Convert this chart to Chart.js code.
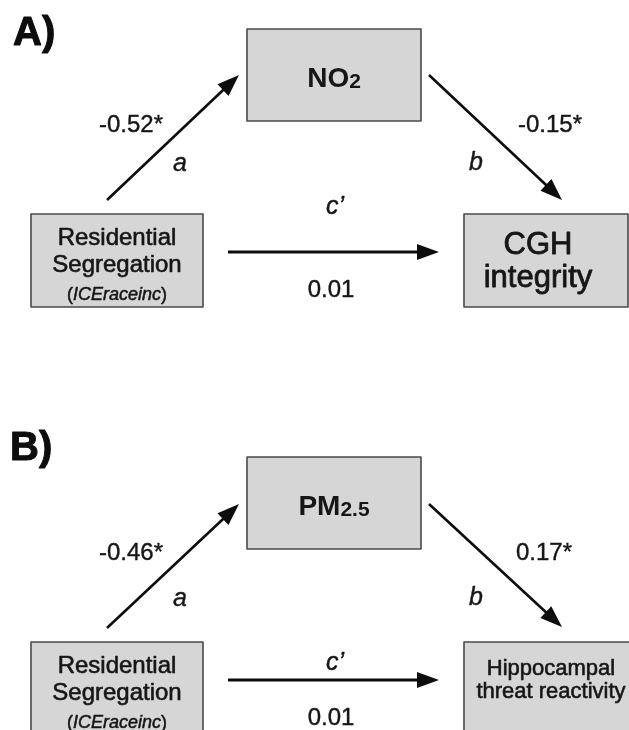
<!DOCTYPE html>
<html>
<head>
<meta charset="utf-8">
<script src="https://cdn.jsdelivr.net/npm/chart.js@4.4.1/dist/chart.umd.min.js"></script>
<style>
  html, body { margin: 0; padding: 0; background: #fff; }
  #wrap { width: 629px; height: 730px; }
</style>
</head>
<body>
<div id="wrap"><canvas id="diagram" width="629" height="730"></canvas></div>
<script>
// values
const panels = ['A)', 'B)'];
const predictorLines = ['Residential', 'Segregation'];
const predictorIndex = 'ICEraceinc';
const mediatorMain = ['NO', 'PM'];
const mediatorSub = ['2', '2.5'];
const outcomeLines = [['CGH', 'integrity'], ['Hippocampal', 'threat reactivity']];
const pathA = [-0.52, -0.46];
const pathB = [-0.15, 0.17];
const pathC = [0.01, 0.01];
const sigA = [true, true];
const sigB = [true, true];
const sigC = [false, false];
const pathNames = ['a', 'b', 'c\u2019'];

// layout in figure units (x 0..629, y 0..730 from the top)
const layout = [
  {
    label: { x: 13, y: 45 },
    med: [247, 29, 421, 121], medBase: 87,
    pred: [31, 214, 203, 307], predBase: [245, 272, 300],
    out: [464, 214, 628, 307], outBase: [254, 287], outSize: 31, outX: 538,
    arrowA: [107, 200, 239, 75], arrowB: [429, 75, 562, 200], arrowC: [228, 252, 439, 252],
    coefA: [131, 132], nameA: [180, 171],
    coefB: [550, 132], nameB: [476, 170],
    nameC: [335, 214], coefC: [331, 297]
  },
  {
    label: { x: 10, y: 460 },
    med: [247, 457, 421, 549], medBase: 515,
    pred: [31, 642, 203, 736], predBase: [673, 700, 728],
    out: [464, 642, 645, 736], outBase: [675, 698], outSize: 22, outX: 551,
    arrowA: [107, 628, 239, 504], arrowB: [429, 504, 562, 627], arrowC: [228, 680, 439, 680],
    coefA: [131, 560], nameA: [180, 606],
    coefB: [544, 560], nameB: [476, 605],
    nameC: [335, 670], coefC: [331, 725]
  }
];

const FAMILY = '"Liberation Sans", Arial, Helvetica, sans-serif';
const INK = '#161616';

function fmt(v, sig) {
  return v.toFixed(2) + (sig ? '*' : '');
}

// regular text drawn a touch heavier, like the medium face of the original
function heavyText(ctx, text, x, y, weight) {
  ctx.fillText(text, x, y);
  ctx.lineWidth = weight;
  ctx.strokeStyle = ctx.fillStyle;
  ctx.lineJoin = 'round';
  ctx.strokeText(text, x, y);
}

function drawRich(ctx, parts, cx, base, weight) {
  let total = 0;
  parts.forEach(p => { ctx.font = p.font; p.w = ctx.measureText(p.text).width; total += p.w; });
  let x = cx - total / 2;
  ctx.textAlign = 'left';
  ctx.textBaseline = 'alphabetic';
  parts.forEach(p => {
    ctx.font = p.font;
    if (weight) heavyText(ctx, p.text, x, base + (p.dy || 0), weight);
    else ctx.fillText(p.text, x, base + (p.dy || 0));
    x += p.w;
  });
}

function drawArrow(ctx, x0, y0, x1, y1, lw) {
  const ang = Math.atan2(y1 - y0, x1 - x0);
  const headLen = 22, headHalf = 8;
  const bx = x1 - headLen * Math.cos(ang), by = y1 - headLen * Math.sin(ang);
  ctx.strokeStyle = '#0d0d0d';
  ctx.lineWidth = lw;
  ctx.lineCap = 'butt';
  ctx.beginPath();
  ctx.moveTo(x0, y0);
  ctx.lineTo(bx + 2 * Math.cos(ang), by + 2 * Math.sin(ang));
  ctx.stroke();
  ctx.fillStyle = '#0d0d0d';
  ctx.beginPath();
  ctx.moveTo(x1, y1);
  ctx.lineTo(bx + headHalf * Math.sin(ang), by - headHalf * Math.cos(ang));
  ctx.lineTo(bx - headHalf * Math.sin(ang), by + headHalf * Math.cos(ang));
  ctx.closePath();
  ctx.fill();
}

const diagramPlugin = {
  id: 'mediation',
  afterDatasetsDraw(chart) {
    const ctx = chart.ctx;
    const xs = chart.scales.x, ys = chart.scales.y;
    const px = v => xs.getPixelForValue(v);
    const py = v => ys.getPixelForValue(v);

    function box(r) {
      const x = px(r[0]), y = py(r[1]);
      const w = px(r[2]) - x, h = py(r[3]) - y;
      ctx.fillStyle = '#d6d6d6';
      ctx.fillRect(x, y, w, h);
      ctx.strokeStyle = '#4a4a4a';
      ctx.lineWidth = 1.6;
      ctx.strokeRect(x, y, w, h);
    }

    ctx.save();
    layout.forEach((L, i) => {
      ctx.fillStyle = '#0d0d0d';

      // panel letter
      ctx.font = 'bold 40px ' + FAMILY;
      ctx.textAlign = 'left';
      ctx.textBaseline = 'alphabetic';
      heavyText(ctx, panels[i], px(L.label.x), py(L.label.y), 1);

      // boxes
      box(L.med);
      box(L.pred);
      box(L.out);

      ctx.fillStyle = INK;
      const medX = px((L.med[0] + L.med[2]) / 2);
      drawRich(ctx, [
        { text: mediatorMain[i], font: 'bold 28px ' + FAMILY },
        { text: mediatorSub[i], font: 'bold 21px ' + FAMILY, dy: 1 }
      ], medX, py(L.medBase));

      const predX = px((L.pred[0] + L.pred[2]) / 2);
      ctx.textAlign = 'center';
      ctx.font = '24px ' + FAMILY;
      heavyText(ctx, predictorLines[0], predX, py(L.predBase[0]), 0.6);
      heavyText(ctx, predictorLines[1], predX, py(L.predBase[1]), 0.6);
      drawRich(ctx, [
        { text: '(', font: '18px ' + FAMILY },
        { text: predictorIndex, font: 'italic 18px ' + FAMILY },
        { text: ')', font: '18px ' + FAMILY }
      ], predX, py(L.predBase[2]), 0.5);

      ctx.textAlign = 'center';
      ctx.font = L.outSize + 'px ' + FAMILY;
      outcomeLines[i].forEach((t, k) => heavyText(ctx, t, px(L.outX), py(L.outBase[k]), i === 0 ? 0.8 : 0.6));

      // paths
      const a = L.arrowA, b = L.arrowB, c = L.arrowC;
      drawArrow(ctx, px(a[0]), py(a[1]), px(a[2]), py(a[3]), 2.6);
      drawArrow(ctx, px(b[0]), py(b[1]), px(b[2]), py(b[3]), 2.6);
      drawArrow(ctx, px(c[0]), py(c[1]), px(c[2]), py(c[3]), 3.2);

      ctx.fillStyle = INK;
      ctx.textAlign = 'center';
      ctx.font = '24px ' + FAMILY;
      heavyText(ctx, fmt(pathA[i], sigA[i]), px(L.coefA[0]), py(L.coefA[1]), 0.4);
      heavyText(ctx, fmt(pathB[i], sigB[i]), px(L.coefB[0]), py(L.coefB[1]), 0.4);
      heavyText(ctx, fmt(pathC[i], sigC[i]), px(L.coefC[0]), py(L.coefC[1]), 0.4);

      ctx.font = 'italic 25px ' + FAMILY;
      heavyText(ctx, pathNames[0], px(L.nameA[0]), py(L.nameA[1]), 0.4);
      heavyText(ctx, pathNames[1], px(L.nameB[0]), py(L.nameB[1]), 0.4);
      heavyText(ctx, pathNames[2], px(L.nameC[0]), py(L.nameC[1]), 0.4);
    });
    ctx.restore();
  }
};

new Chart(document.getElementById('diagram'), {
  type: 'scatter',
  data: { datasets: [] },
  options: {
    responsive: false,
    animation: false,
    layout: { padding: 0 },
    plugins: { legend: { display: false }, tooltip: { enabled: false } },
    scales: {
      x: { type: 'linear', min: 0, max: 629, display: false },
      y: { type: 'linear', min: 0, max: 730, reverse: true, display: false }
    }
  },
  plugins: [diagramPlugin]
});
</script>
</body>
</html>
